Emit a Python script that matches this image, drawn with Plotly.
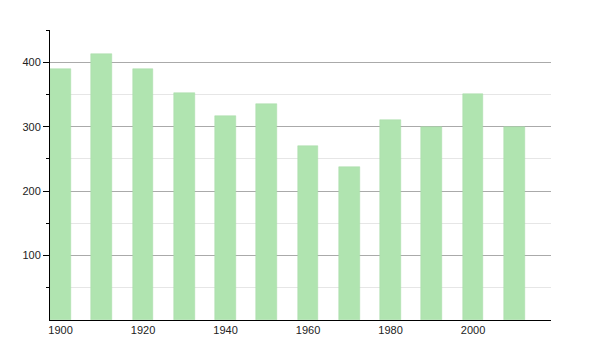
import plotly.graph_objects as go

years = [1900, 1910, 1920, 1930, 1940, 1950, 1960, 1970, 1980, 1990, 2000, 2010]
population = [390, 413, 390, 352, 317, 335, 270, 237, 310, 300, 350, 300]
x_ticks = [1900, 1920, 1940, 1960, 1980, 2000]
y_ticks = [100, 200, 300, 400]

fig = go.Figure()
fig.add_trace(go.Bar(
    x=years, y=population, width=5,
    marker=dict(color="#b0e4b0", line=dict(color="#a6dca6", width=0.5)),
))

fig.update_layout(
    width=600, height=350,
    margin=dict(l=50, r=49, t=30, b=30),
    plot_bgcolor="white", paper_bgcolor="white",
    showlegend=False,
    font=dict(family="Liberation Sans, Arial, sans-serif", size=11, color="#222"),
    bargap=0,
)
fig.update_xaxes(
    range=[1897.45, 2018.9], tickvals=x_ticks, ticktext=[str(v) for v in x_ticks],
    showgrid=False, showline=True, linecolor="black", linewidth=1,
    ticks="", ticklen=0, zeroline=False,
)
fig.update_yaxes(
    range=[0, 450], tickvals=y_ticks, ticktext=[str(v) for v in y_ticks],
    showgrid=True, gridcolor="#aaaaaa", gridwidth=1,
    showline=True, linecolor="black", linewidth=1,
    ticks="outside", ticklen=6, tickcolor="black", zeroline=False,
    minor=dict(tickvals=[50, 150, 250, 350, 450], showgrid=True, gridcolor="#e6e6e6",
               ticks="outside", ticklen=3, tickcolor="black"),
)
fig.write_html("out.html")
